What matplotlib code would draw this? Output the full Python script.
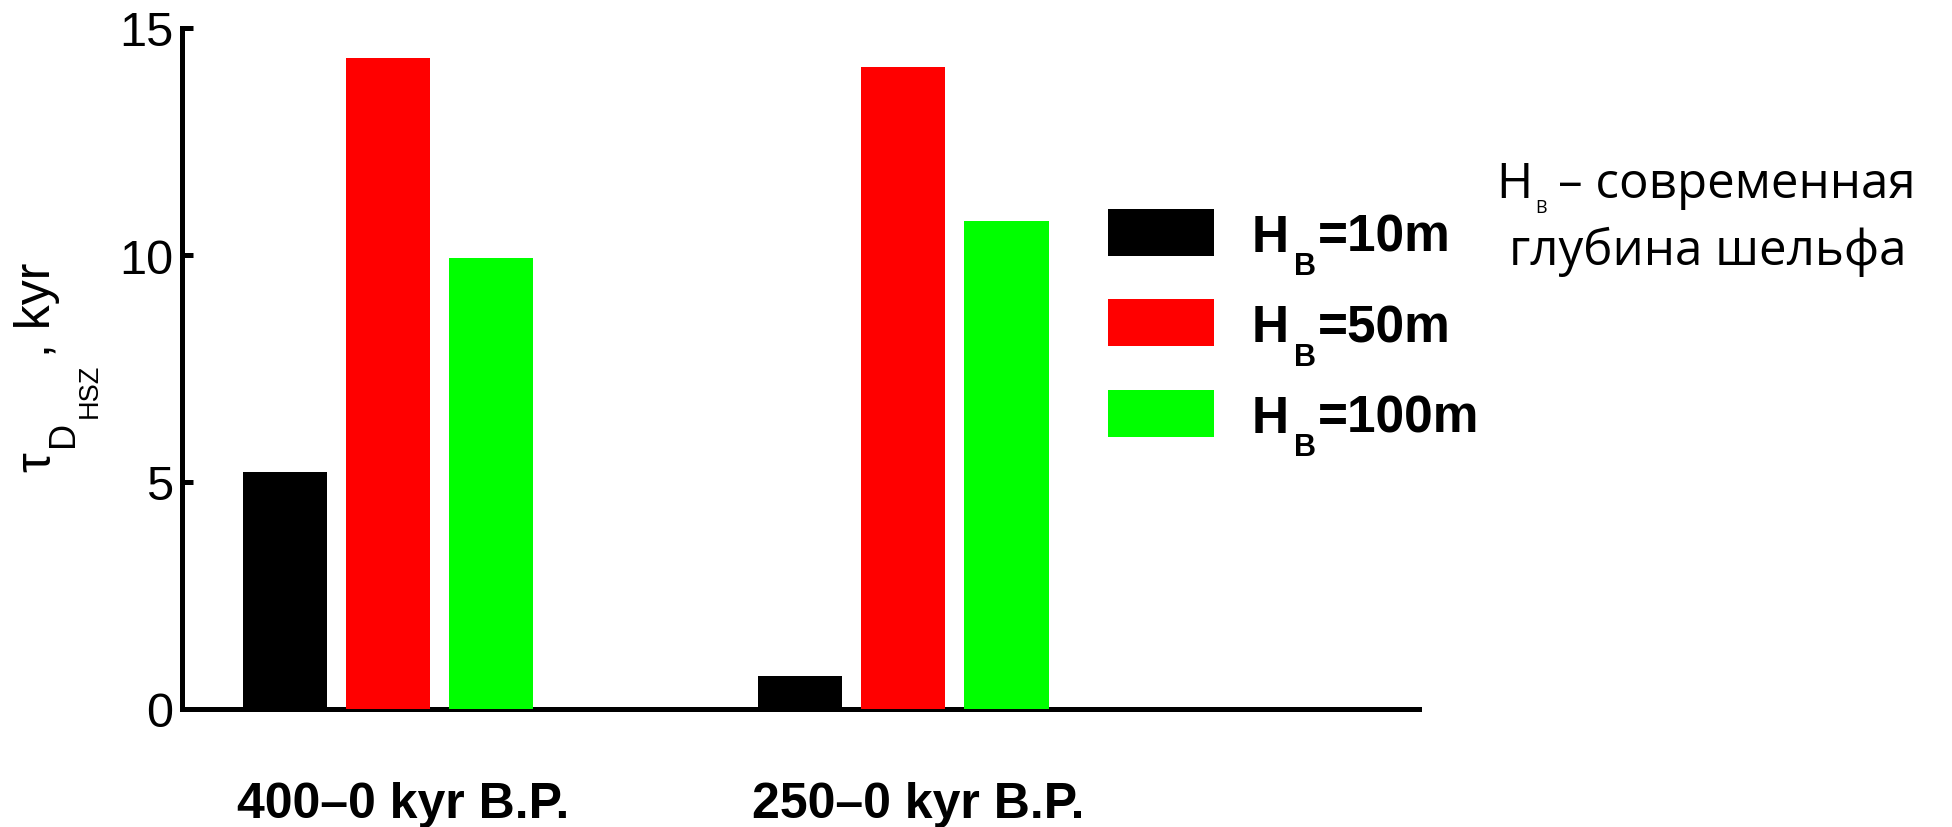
import matplotlib
matplotlib.use('Agg')
import matplotlib.pyplot as plt
import numpy as np
from matplotlib import transforms

# ---- data ----
groups = ['400–0 kyr B.P.', '250–0 kyr B.P.']
series = ['10m', '50m', '100m']
vals_10m = [5.21, 0.72]
vals_50m = [14.35, 14.14]
vals_100m = [9.93, 10.74]
colors = ['#000000', '#ff0000', '#00ff00']
yticks = [0, 5, 10, 15]
note_line1 = '– современная'
note_line2 = 'глубина шельфа'

W, H = 1952, 828
plt.rcParams['font.family'] = ['Liberation Sans', 'DejaVu Sans']
fig = plt.figure(figsize=(W / 100, H / 100), dpi=100)
renderer = fig.canvas.get_renderer()


def fx(x):
    return x / W


def fy(yd):
    return 1 - yd / H


def piece(xpix, yd, s, **kw):
    """Draw a text piece with baseline-left anchor at figure pixel (xpix, y-down yd),
    return the right edge (pixels) of its extent."""
    t = fig.text(fx(xpix), fy(yd), s, ha='left', va='baseline', **kw)
    bb = t.get_window_extent(renderer)
    return bb.x1


ax = fig.add_axes([fx(181.5), fy(710), (1419 - 181.5) / W, (710 - 29) / H])

x = np.arange(1, len(groups) + 1)
offsets = [-0.2, 0.0, 0.2]
bars = []
for vals, off, c in zip([vals_10m, vals_50m, vals_100m], offsets, colors):
    b = ax.bar(x + off, vals, width=0.163, color=c, zorder=3, linewidth=0)
    bars.append(b)

ax.set_xlim(0.6, 3.0)
ax.set_ylim(0, 15)
ax.set_yticks(yticks)
ax.set_yticklabels([str(t) for t in yticks])
ax.set_xticks([])
for s in ['top', 'right']:
    ax.spines[s].set_visible(False)
for s in ['left', 'bottom']:
    ax.spines[s].set_linewidth(3.6)
ax.tick_params(axis='y', direction='in', length=8, width=3.6, pad=6, labelsize=35)

# category labels
trans = transforms.blended_transform_factory(ax.transData, ax.transAxes) + \
    transforms.ScaledTranslation(15 / 100, 0, fig.dpi_scale_trans)
for xi, g in zip(x, groups):
    ax.text(xi, (710 - 818) / 681, g, transform=trans, ha='center', va='baseline',
            fontsize=36, fontweight='bold')

# ---- legend (swatches from the bar containers) ----
fs_pt = 35
fs = fs_pt * 100 / 72.0
hh = (47 / fs - 0.245) / 0.65
prop = {'family': 'Liberation Sans', 'weight': 'bold', 'size': fs_pt}
target_top = 209.6
target_step = 90.6
lab_pt = 37


def make_legend(ls, anchor_yd):
    return ax.legend(handles=bars, labels=['', '', ''], loc='upper left',
                     bbox_to_anchor=(fx(1108), fy(anchor_yd)),
                     bbox_transform=fig.transFigure, frameon=False, borderpad=0,
                     borderaxespad=0, handlelength=106 / fs, handleheight=hh,
                     handletextpad=0.0, labelspacing=ls, prop=prop)


ls, anchor = 0.8, target_top
for _ in range(3):
    leg = make_legend(ls, anchor)
    fig.canvas.draw()
    ext = [h.get_window_extent(renderer) for h in leg.legend_handles]
    step = ext[0].y1 - ext[1].y1
    top_yd = H - ext[0].y1
    ls += (target_step - step) / fs
    anchor += (target_top - top_yd)
leg = make_legend(ls, anchor)
fig.canvas.draw()
ext = [h.get_window_extent(renderer) for h in leg.legend_handles]

for bb, s in zip(ext, series):
    base = H - bb.y0 - 4.9
    xr = piece(bb.x1 + 38, base, 'H', fontsize=lab_pt, fontweight='bold')
    xr = piece(xr + 5, base + 23.3, 'B', fontsize=22, fontweight='bold')
    piece(xr + 2, base, '=' + s, fontsize=lab_pt, fontweight='bold')

# ---- y label pieces (rotated) ----
ylab = [('τ', 36, 50, 471.7), ('D', 26, 73.3, 446.7), ('HSZ', 19.5, 96.7, 418.3),
        (', kyr', 36, 50, 357)]
for s, size, xb, yd in ylab:
    fig.text(fx(xb), fy(yd), s, rotation=90, rotation_mode='anchor', ha='left',
             va='baseline', fontsize=size)

# ---- annotation ----
nf = ['Open Sans', 'DejaVu Sans']
xr = piece(1496, 198.3, 'H', fontsize=35.5, family=nf)
xr = piece(xr + 3, 213.3, 'B', fontsize=13, family=nf)
piece(xr + 11, 198.3, note_line1, fontsize=35.5, family=nf)
piece(1509, 265, note_line2, fontsize=35.5, family=nf)

fig.savefig('out.png', dpi=100)
